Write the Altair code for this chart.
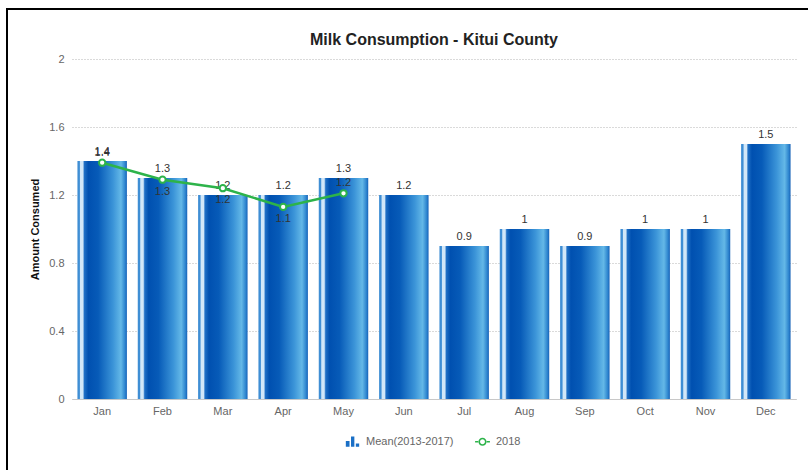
import altair as alt
import pandas as pd

# Monthly milk consumption, Kitui County
months = ["Jan", "Feb", "Mar", "Apr", "May", "Jun",
          "Jul", "Aug", "Sep", "Oct", "Nov", "Dec"]
mean_2013_2017 = [1.4, 1.3, 1.2, 1.2, 1.3, 1.2, 0.9, 1.0, 0.9, 1.0, 1.0, 1.5]
months_2018 = ["Jan", "Feb", "Mar", "Apr", "May"]
values_2018 = [1.39, 1.29, 1.24, 1.13, 1.21]
series_names = ["Mean(2013-2017)", "2018"]
y_ticks = [0, 0.4, 0.8, 1.2, 1.6, 2]

BLUE = "#1a6fc6"
GREEN = "#2db34a"
FONT = "Liberation Sans"

W, H = 724, 340

bars_df = pd.DataFrame({"month": months, "value": mean_2013_2017})
line_df = pd.DataFrame({"month": months_2018, "value": values_2018})
legend_df = pd.DataFrame({"series": series_names})

bar_gradient = alt.Gradient(
    gradient="linear", x1=0, x2=1, y1=0, y2=0,
    stops=[
        alt.GradientStop(offset=0.0, color="#3f8ed4"),
        alt.GradientStop(offset=0.04, color="#3f8ed4"),
        alt.GradientStop(offset=0.06, color="#d2e7f8"),
        alt.GradientStop(offset=0.11, color="#d2e7f8"),
        alt.GradientStop(offset=0.14, color="#1f6fc5"),
        alt.GradientStop(offset=0.22, color="#0050b0"),
        alt.GradientStop(offset=0.42, color="#075bb8"),
        alt.GradientStop(offset=0.72, color="#3b94d8"),
        alt.GradientStop(offset=0.88, color="#64b8e7"),
        alt.GradientStop(offset=0.96, color="#2f86cf"),
        alt.GradientStop(offset=1.0, color="#1662b8"),
    ],
)

x_enc = alt.X(
    "month:N", sort=months, title=None,
    scale=alt.Scale(paddingInner=0.18, paddingOuter=0.09),
    axis=alt.Axis(labelAngle=0, labelColor="#666666", labelFontSize=11,
                  labelFont=FONT, labelPadding=6, ticks=False,
                  domainColor="#c8c8c8", grid=False),
)
y_enc = alt.Y(
    "value:Q", title="Amount Consumed",
    scale=alt.Scale(domain=[0, 2], nice=False),
    axis=alt.Axis(values=y_ticks, format="~g", labelColor="#666666", labelFontSize=11,
                  labelFont=FONT, labelPadding=8, ticks=False, domain=False,
                  gridColor="#b4b4b4", gridDash=[1, 2], gridWidth=1,
                  titleFont=FONT, titleFontSize=11, titleFontWeight="bold",
                  titleColor="#111111", titleX=-37, titleY=H / 2,
                  titleAlign="center", titleBaseline="middle"),
)

bars = alt.Chart(bars_df).mark_bar(color=bar_gradient).encode(x=x_enc, y=y_enc)

bar_labels = alt.Chart(bars_df).mark_text(
    baseline="bottom", dy=-4, fontSize=11, font=FONT, color="#333333"
).encode(x=alt.X("month:N", sort=months), y="value:Q",
         text=alt.Text("value:Q", format=".1~f"))

line = alt.Chart(line_df).mark_line(color=GREEN, strokeWidth=2.5).encode(
    x=alt.X("month:N", sort=months), y="value:Q")

points = alt.Chart(line_df).mark_point(
    filled=True, fill="white", stroke=GREEN, strokeWidth=2, size=40, opacity=1
).encode(x=alt.X("month:N", sort=months), y="value:Q")

above = ["Jan", "May"]
line_labels_above = alt.Chart(line_df).transform_filter(
    alt.FieldOneOfPredicate(field="month", oneOf=above)
).mark_text(baseline="bottom", dy=-5, fontSize=11, font=FONT, color="#333333").encode(
    x=alt.X("month:N", sort=months), y="value:Q",
    text=alt.Text("value:Q", format=".1f"))

line_labels_below = alt.Chart(line_df).transform_filter(
    ~alt.FieldOneOfPredicate(field="month", oneOf=above)
).mark_text(baseline="top", dy=6, fontSize=11, font=FONT, color="#333333").encode(
    x=alt.X("month:N", sort=months), y="value:Q",
    text=alt.Text("value:Q", format=".1f"))

# legend icons: a small column chart and a ring with a line through it
bar_icon = ("M-0.9,0.7 L-0.9,-0.1 L-0.4,-0.1 L-0.4,0.7 Z "
            "M-0.2,0.7 L-0.2,-0.7 L0.25,-0.7 L0.25,0.7 Z "
            "M0.45,0.7 L0.45,0.25 L0.9,0.25 L0.9,0.7 Z")
ring_icon = ("M-1,-0.1 L-0.5,-0.1 L-0.5,0.1 L-1,0.1 Z "
             "M0.5,-0.1 L1,-0.1 L1,0.1 L0.5,0.1 Z "
             "M0.55,0 A0.55,0.55 0 1,0 -0.55,0 A0.55,0.55 0 1,0 0.55,0 Z "
             "M0.33,0 A0.33,0.33 0 1,1 -0.33,0 A0.33,0.33 0 1,1 0.33,0 Z")

legend_layer = alt.Chart(legend_df).mark_point(filled=True, opacity=0).encode(
    color=alt.Color("series:N",
                    scale=alt.Scale(domain=series_names, range=[BLUE, GREEN]),
                    legend=alt.Legend(title=None, orient="none", direction="horizontal",
                                      legendX=272, legendY=374, symbolOpacity=1,
                                      symbolSize=220, labelFont=FONT, labelFontSize=11,
                                      labelColor="#666666", columnPadding=20,
                                      labelOffset=5)),
    shape=alt.Shape("series:N",
                    scale=alt.Scale(domain=series_names, range=[bar_icon, ring_icon]),
                    legend=None),
)

frame = alt.Chart(legend_df).mark_rect(
    fill="transparent", stroke="#000000", strokeWidth=2
).encode(x=alt.value(-65), x2=alt.value(W + 60), y=alt.value(-50), y2=alt.value(H + 100))

chart = alt.layer(
    frame, bars, bar_labels, line, points, line_labels_above, line_labels_below, legend_layer
).resolve_scale(color="independent", shape="independent").properties(
    width=W, height=H,
    title=alt.TitleParams("Milk Consumption - Kitui County", font=FONT, fontSize=16,
                          fontWeight="bold", color="#222222", anchor="middle",
                          offset=0, dy=40),
    autosize=alt.AutoSizeParams(type="none"),
    padding={"left": 72, "top": 59, "right": 12, "bottom": 71},
    background="white",
).configure_view(strokeWidth=0)

chart.save("out.html", embed_options={"renderer": "svg", "actions": False})
